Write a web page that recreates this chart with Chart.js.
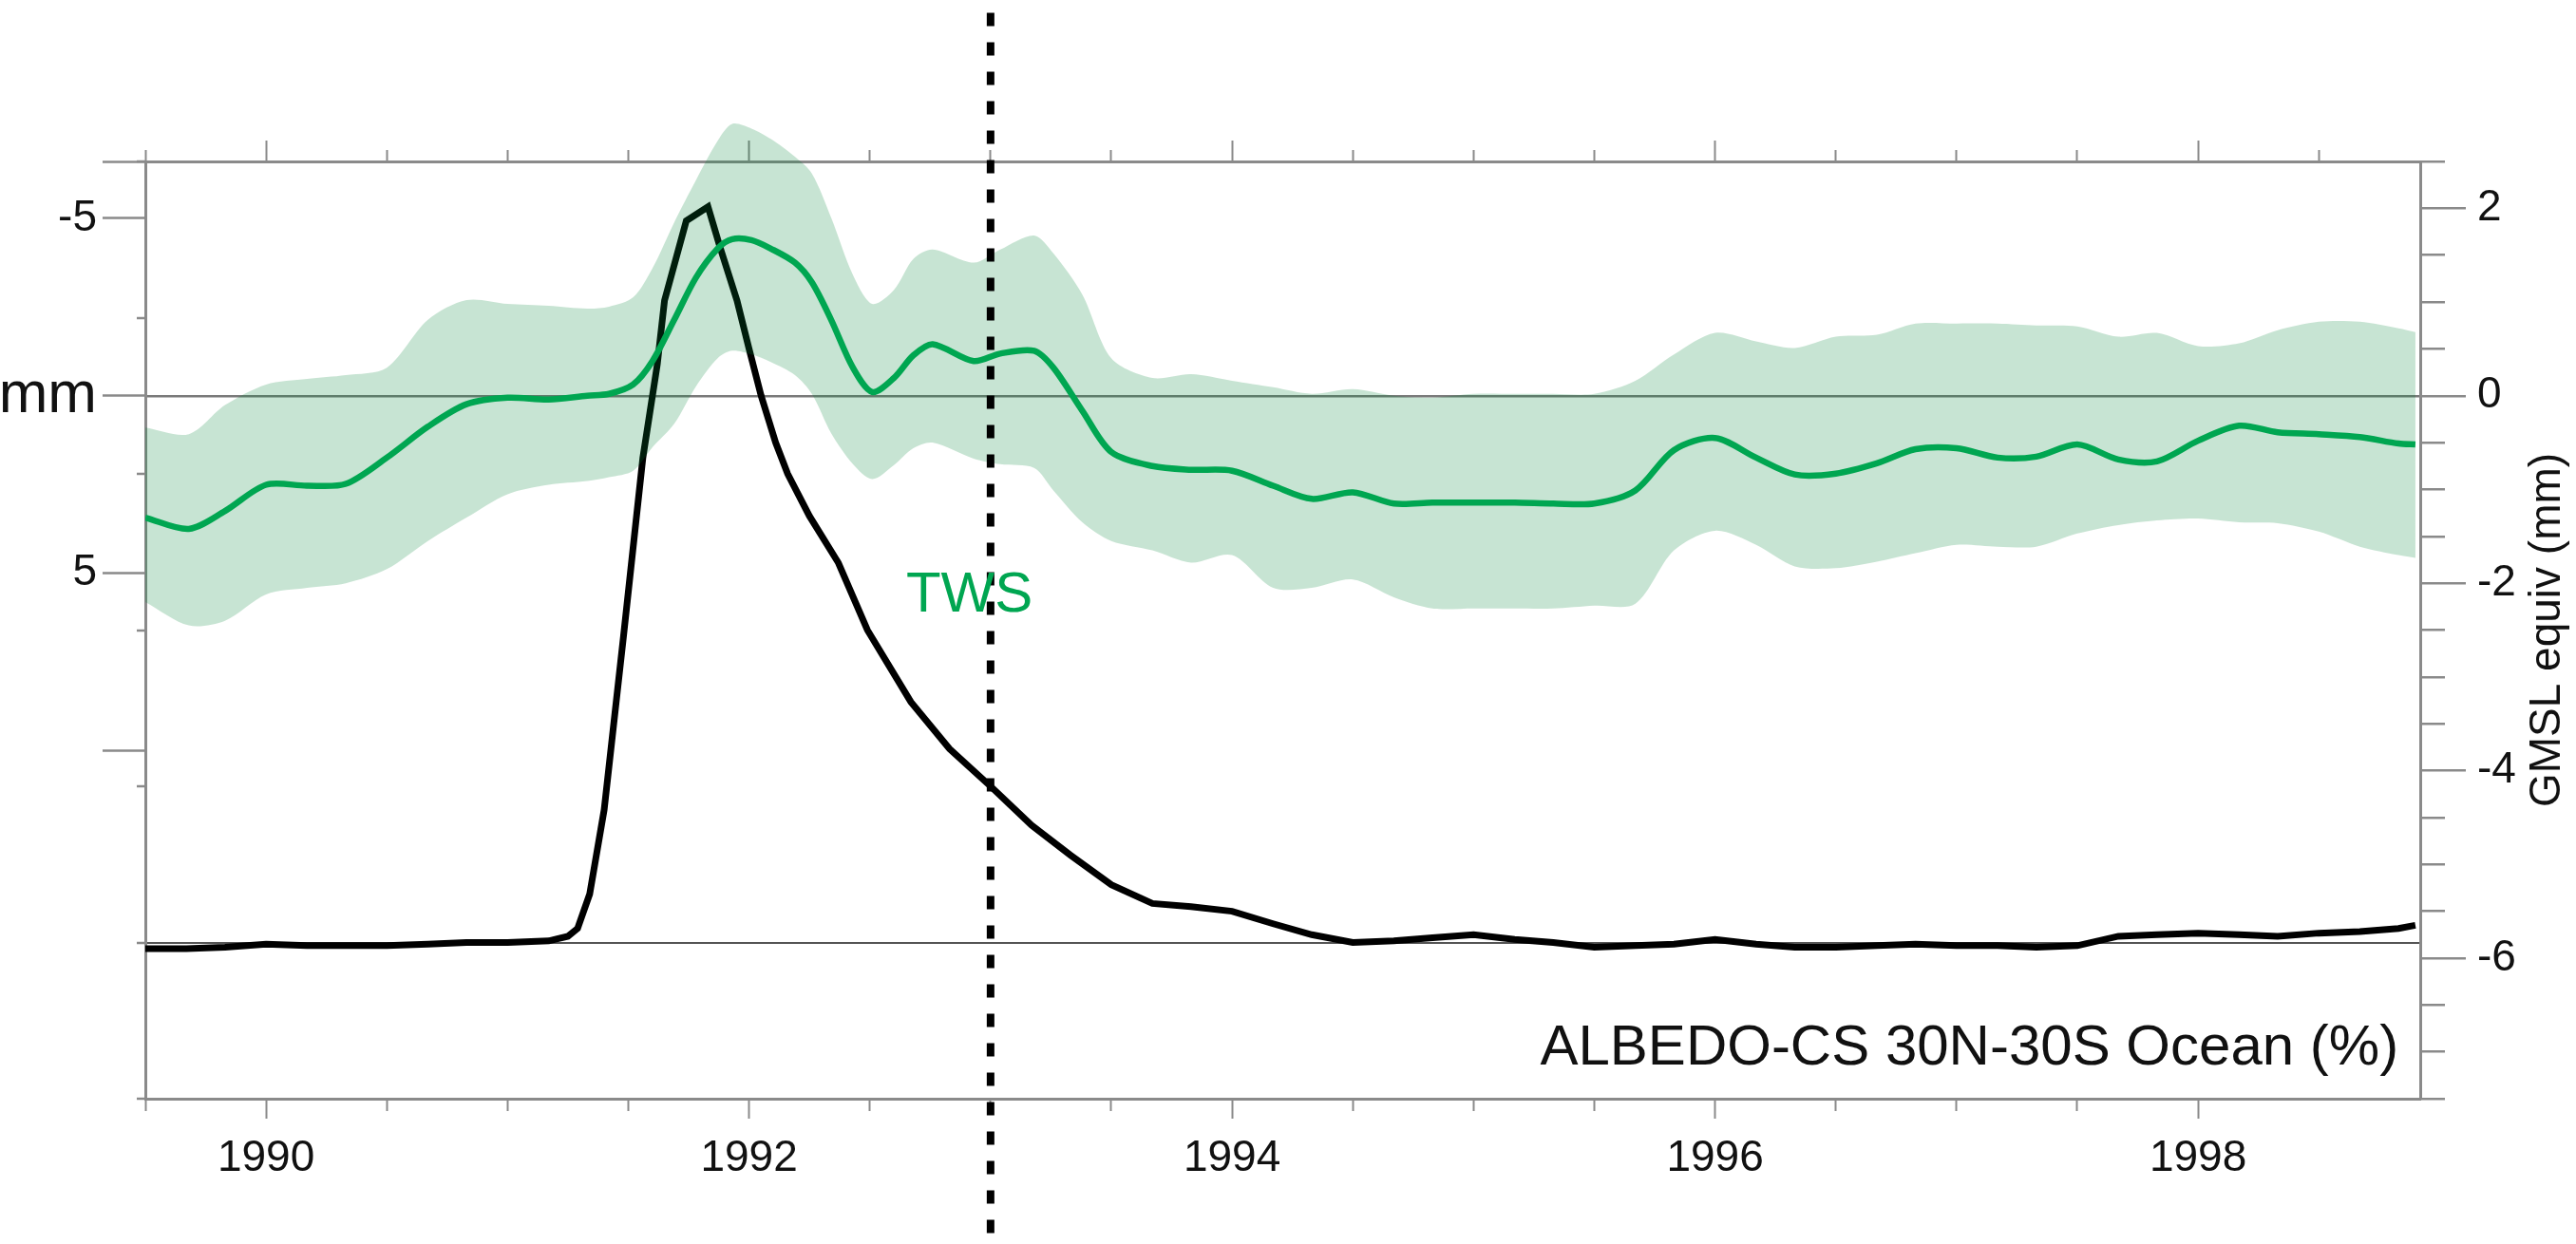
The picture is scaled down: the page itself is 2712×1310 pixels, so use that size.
<!DOCTYPE html>
<html>
<head>
<meta charset="utf-8">
<title>TWS and ALBEDO-CS</title>
<script src="https://cdn.jsdelivr.net/npm/chart.js@4.4.1/dist/chart.umd.min.js"></script>
<style>
  html, body { margin: 0; padding: 0; background: #fff; }
  #wrap { width: 2712px; height: 1310px; position: relative; }
</style>
</head>
<body>
<div id="wrap"><canvas id="chart"></canvas></div>
<script>
// --- values ---
// TWS, expressed in GMSL equivalent (mm, right axis)
const twsYears = [1989.50, 1989.68, 1989.83, 1990.00, 1990.17, 1990.33, 1990.50, 1990.67, 1990.83, 1991.00,
  1991.17, 1991.33, 1991.42, 1991.52, 1991.60, 1991.69, 1991.78, 1991.87, 1991.93, 1992.01,
  1992.09, 1992.19, 1992.26, 1992.34, 1992.43, 1992.51, 1992.60, 1992.68, 1992.76, 1992.93,
  1993.04, 1993.18, 1993.26, 1993.38, 1993.50, 1993.67, 1993.83, 1994.00, 1994.17, 1994.33,
  1994.50, 1994.67, 1994.83, 1995.00, 1995.17, 1995.33, 1995.50, 1995.67, 1995.83, 1996.00,
  1996.17, 1996.33, 1996.50, 1996.67, 1996.83, 1997.00, 1997.17, 1997.33, 1997.50, 1997.67,
  1997.83, 1998.00, 1998.17, 1998.33, 1998.50, 1998.67, 1998.83, 1998.90];
const twsMid = [-1.30, -1.42, -1.23, -0.95, -0.96, -0.94, -0.66, -0.33, -0.09, -0.02,
  -0.04, 0.00, 0.02, 0.12, 0.37, 0.81, 1.26, 1.57, 1.67, 1.66,
  1.57, 1.42, 1.21, 0.81, 0.30, 0.04, 0.19, 0.43, 0.55, 0.37,
  0.45, 0.48, 0.30, -0.16, -0.60, -0.75, -0.79, -0.80, -0.96, -1.10,
  -1.03, -1.15, -1.14, -1.14, -1.14, -1.15, -1.15, -1.01, -0.58, -0.45,
  -0.66, -0.84, -0.83, -0.72, -0.57, -0.56, -0.66, -0.65, -0.52, -0.68,
  -0.70, -0.48, -0.32, -0.39, -0.41, -0.44, -0.51, -0.52];
const twsHigh = [-0.34, -0.41, -0.10, 0.12, 0.18, 0.22, 0.30, 0.81, 1.02, 0.98,
  0.96, 0.93, 0.95, 1.05, 1.36, 1.85, 2.30, 2.72, 2.90, 2.85,
  2.74, 2.55, 2.37, 1.90, 1.29, 0.98, 1.13, 1.46, 1.56, 1.42,
  1.56, 1.71, 1.52, 1.08, 0.40, 0.19, 0.23, 0.16, 0.09, 0.02,
  0.07, 0.00, -0.02, 0.02, 0.02, 0.02, 0.02, 0.16, 0.44, 0.67,
  0.58, 0.51, 0.63, 0.65, 0.77, 0.77, 0.77, 0.75, 0.74, 0.63,
  0.67, 0.53, 0.56, 0.70, 0.79, 0.79, 0.72, 0.68];
const twsLow = [-2.20, -2.45, -2.40, -2.12, -2.05, -2.00, -1.85, -1.55, -1.30, -1.05,
  -0.95, -0.91, -0.87, -0.80, -0.55, -0.30, 0.10, 0.40, 0.48, 0.44,
  0.36, 0.22, 0.02, -0.40, -0.73, -0.89, -0.74, -0.56, -0.50, -0.67,
  -0.73, -0.77, -1.01, -1.35, -1.55, -1.65, -1.78, -1.70, -2.05, -2.05,
  -1.96, -2.15, -2.27, -2.27, -2.27, -2.27, -2.24, -2.22, -1.65, -1.44,
  -1.59, -1.82, -1.84, -1.77, -1.68, -1.59, -1.61, -1.61, -1.47, -1.38,
  -1.33, -1.31, -1.35, -1.36, -1.45, -1.61, -1.70, -1.73];

// ALBEDO-CS 30N-30S ocean anomaly (%)
const albedoYears = [1989.50, 1989.67, 1989.83, 1990.00, 1990.17, 1990.33, 1990.50, 1990.67, 1990.83, 1991.00,
  1991.17, 1991.25, 1991.29, 1991.34, 1991.40, 1991.48, 1991.56, 1991.62, 1991.65, 1991.74,
  1991.83, 1991.88, 1991.95, 1992.00, 1992.05, 1992.11, 1992.16, 1992.25, 1992.37, 1992.49,
  1992.67, 1992.83, 1993.00, 1993.17, 1993.33, 1993.50, 1993.67, 1993.83, 1994.00, 1994.17,
  1994.33, 1994.50, 1994.67, 1994.83, 1995.00, 1995.17, 1995.33, 1995.50, 1995.67, 1995.83,
  1996.00, 1996.17, 1996.33, 1996.50, 1996.67, 1996.83, 1997.00, 1997.17, 1997.33, 1997.50,
  1997.67, 1997.83, 1998.00, 1998.17, 1998.33, 1998.50, 1998.67, 1998.83, 1998.90];
const albedoCS = [-0.04, -0.04, -0.03, -0.01, -0.02, -0.02, -0.02, -0.01, 0.00, 0.00,
  0.01, 0.04, 0.09, 0.31, 0.85, 1.96, 3.10, 3.70, 4.11, 4.62,
  4.71, 4.45, 4.11, 3.80, 3.50, 3.20, 3.00, 2.73, 2.43, 2.00,
  1.54, 1.24, 1.00, 0.75, 0.56, 0.37, 0.25, 0.23, 0.20, 0.12,
  0.05, 0.00, 0.01, 0.03, 0.05, 0.02, 0.00, -0.03, -0.02, -0.01,
  0.02, -0.01, -0.03, -0.03, -0.02, -0.01, -0.02, -0.02, -0.03, -0.02,
  0.04, 0.05, 0.06, 0.05, 0.04, 0.06, 0.07, 0.09, 0.11];

const eventYear = 1993.0;
const eventSpan = [4.4, -9.2];           // GMSL mm, runs past the plot on purpose

const xTickLabels = [1990, 1992, 1994, 1996, 1998];
const gmslTickLabels = [-6, -4, -2, 0, 2];
const mmTicks = [-5, 0, 5, 10];
const mmTickLabels = ['-5', 'mm', '5', ''];

// label anchors (data coords)
const twsLabelAt = { x: 1992.65, y: -2.30 };
const albedoLabelAt = { x: 1998.83, y: -7.14 };

// --- chart ---
const FONT = "'Liberation Sans', Arial, Helvetica, sans-serif";
Chart.defaults.font.family = FONT;
Chart.defaults.color = '#111';

const AXIS = '#8a8a8a';
const GREEN = '#00a651';
const pts = (xs, ys) => xs.map((x, i) => ({ x: x, y: ys[i] }));
const halfYears = s => { s.ticks = s.ticks.filter(t => Number.isInteger(Math.round(t.value * 1000) / 500)); };
const isOneOf = (list, v) => list.some(m => Math.abs(m - v) < 1e-6);

// let the band spill over the top frame like in the original
const unclipTop = {
  id: 'unclipTop',
  beforeDatasetsDraw(chart) { chart.$savedTop = chart.chartArea.top; chart.chartArea.top = 0; },
  afterDatasetsDraw(chart) { chart.chartArea.top = chart.$savedTop; }
};

const textLabels = {
  id: 'textLabels',
  afterDraw(chart) {
    const ctx = chart.ctx;
    const x = chart.scales.x, y = chart.scales.y;
    ctx.save();
    ctx.textBaseline = 'alphabetic';

    ctx.fillStyle = GREEN;
    ctx.font = '60px ' + FONT;
    ctx.textAlign = 'left';
    ctx.fillText('TWS', x.getPixelForValue(twsLabelAt.x), y.getPixelForValue(twsLabelAt.y));

    ctx.fillStyle = '#111';
    ctx.textAlign = 'right';
    ctx.fillText('ALBEDO-CS 30N-30S Ocean (%)', x.getPixelForValue(albedoLabelAt.x), y.getPixelForValue(albedoLabelAt.y));

    // right axis title reads bottom-to-top
    ctx.translate(y.left + 134, (chart.chartArea.top + chart.chartArea.bottom) / 2);
    ctx.rotate(-Math.PI / 2);
    ctx.font = '46px ' + FONT;
    ctx.textAlign = 'center';
    ctx.textBaseline = 'middle';
    ctx.fillText('GMSL equiv (mm)', 0, 0);
    ctx.restore();
  }
};

new Chart(document.getElementById('chart'), {
  type: 'line',
  data: {
    datasets: [
      {
        label: 'ALBEDO-CS', data: pts(albedoYears, albedoCS), yAxisID: 'alb',
        borderColor: '#000', borderWidth: 7, pointRadius: 0, tension: 0, order: 4
      },
      {
        label: 'TWS high', data: pts(twsYears, twsHigh), yAxisID: 'y',
        borderWidth: 0, pointRadius: 0, tension: 0.3, fill: '+1', clip: false,
        backgroundColor: 'rgba(0,132,55,0.22)', order: 3
      },
      {
        label: 'TWS low', data: pts(twsYears, twsLow), yAxisID: 'y',
        borderWidth: 0, pointRadius: 0, tension: 0.3, fill: false, clip: false, order: 3
      },
      {
        label: 'TWS', data: pts(twsYears, twsMid), yAxisID: 'y',
        borderColor: GREEN, borderWidth: 6.5, pointRadius: 0, tension: 0.3, order: 2
      },
      {
        label: 'event', data: eventSpan.map(v => ({ x: eventYear, y: v })), yAxisID: 'y',
        borderColor: '#000', borderWidth: 8, borderDash: [14, 17], pointRadius: 0,
        clip: false, order: 1
      }
    ]
  },
  options: {
    responsive: true,
    maintainAspectRatio: false,
    animation: false,
    events: [],
    layout: { padding: { top: 148, right: 0, bottom: 0, left: 0 } },
    plugins: { legend: { display: false }, tooltip: { enabled: false } },
    scales: {
      x: {
        type: 'linear', position: 'bottom', min: 1989.5, max: 1998.92,
        afterBuildTicks: halfYears,
        afterFit: s => { s.height = 153; },
        ticks: {
          stepSize: 0.5, autoSkip: false, maxRotation: 0, padding: 15,
          font: { size: 46 }, color: '#111',
          callback: v => isOneOf(xTickLabels, v) ? String(Math.round(v)) : ''
        },
        grid: {
          drawOnChartArea: false, tickLength: 21, tickWidth: 2, tickColor: AXIS,
          tickBorderDash: c => isOneOf(xTickLabels, c.tick.value) ? [] : [11, 100]
        },
        border: { color: AXIS, width: 3 }
      },
      x2: {
        type: 'linear', position: 'top', min: 1989.5, max: 1998.92,
        afterBuildTicks: halfYears,
        afterFit: s => { s.height = 22; },
        ticks: { stepSize: 0.5, autoSkip: false, display: false },
        grid: {
          drawOnChartArea: false, tickLength: 22, tickWidth: 2, tickColor: AXIS,
          tickBorderDash: c => isOneOf(xTickLabels, c.tick.value) ? [] : [0, 10, 12, 100]
        },
        border: { color: AXIS, width: 3 }
      },
      y: {
        type: 'linear', position: 'right', min: -7.5, max: 2.5,
        afterFit: s => { s.width = 164; },
        ticks: {
          stepSize: 0.5, autoSkip: false, padding: 12, font: { size: 46 }, color: '#111',
          callback: v => isOneOf(gmslTickLabels, v) ? String(Math.round(v)) : ''
        },
        grid: {
          color: c => c.tick && Math.abs(c.tick.value) < 1e-6 ? '#7a7a7a' : 'rgba(0,0,0,0)',
          lineWidth: 2.5, tickLength: 48, tickWidth: 2.5, tickColor: AXIS,
          tickBorderDash: c => isOneOf(gmslTickLabels, c.tick.value) ? [] : [24, 100]
        },
        border: { color: AXIS, width: 3 }
      },
      mm: {
        type: 'linear', position: 'left', reverse: true, min: -6.6, max: 19.8, weight: 1,
        afterBuildTicks: s => { s.ticks = [{ value: -6.6 }].concat(mmTicks.map(v => ({ value: v }))); },
        afterFit: s => { s.width = 153; },
        ticks: {
          autoSkip: false, padding: 6, color: '#111',
          font: c => ({ size: c.tick && c.tick.value === 0 ? 62 : 46 }),
          callback: v => { const i = mmTicks.indexOf(v); return i < 0 ? '' : mmTickLabels[i]; }
        },
        grid: { drawOnChartArea: false, tickLength: 45, tickWidth: 2.5, tickColor: AXIS },
        border: { color: AXIS, width: 3 }
      },
      alb: {
        type: 'linear', position: 'left', min: -1, max: 5, weight: 0,
        afterFit: s => { s.width = 0; },
        ticks: { stepSize: 1, autoSkip: false, display: false },
        grid: {
          color: c => c.tick && c.tick.value === 0 ? '#555' : 'rgba(0,0,0,0)',
          lineWidth: 2, tickLength: 9, tickWidth: 2.5, tickColor: AXIS
        },
        border: { display: false }
      }
    }
  },
  plugins: [unclipTop, textLabels]
});
</script>
</body>
</html>
